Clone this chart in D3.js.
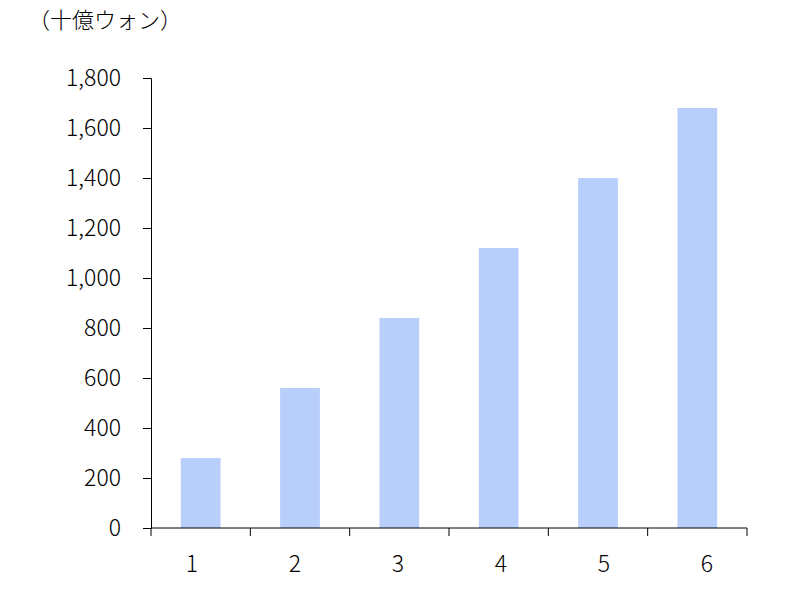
<!DOCTYPE html>
<html><head><meta charset="utf-8">
<script src="https://cdn.jsdelivr.net/npm/d3@7"></script>
<style>
body{margin:0;background:#fff;}
text{font-family:"Noto Sans CJK JP","Noto Sans",sans-serif;fill:#000;}
</style></head>
<body><svg id="c" width="800" height="600"></svg>
<script>
const categories = ["1","2","3","4","5","6"];
const values = [280, 560, 840, 1120, 1400, 1680];
const yTicks = [0,200,400,600,800,1000,1200,1400,1600,1800];
const unitLabel = "（十億ウォン）";

const svg = d3.select("#c");
const x = d3.scaleBand().domain(categories).range([151, 747]).paddingInner(0.6).paddingOuter(0.3);
const xLab = d3.scalePoint().domain(categories).range([192, 707]);
const y = d3.scaleLinear().domain([0,1800]).range([528, 78]);

svg.append("g").selectAll("rect").data(values).join("rect")
  .attr("x",(d,i)=>x(categories[i]))
  .attr("width",x.bandwidth())
  .attr("y",d=>y(d))
  .attr("height",d=>y(0)-y(d))
  .attr("fill","#b8cffc");

// y axis
const ya = svg.append("g").attr("transform","translate(151,0)")
  .call(d3.axisLeft(y).tickValues(yTicks).tickSize(8).tickPadding(22).tickFormat(d3.format(",")));
ya.selectAll("text").style("font-size","23px").style("font-weight","300").attr("fill","#000").attr("font-family",null);
ya.select(".domain").attr("stroke","#000");
ya.selectAll(".tick line").attr("stroke","#000");

// x axis line with boundary ticks
const edges = [151].concat(categories.map((c,i)=>151+(747-151)*(i+1)/categories.length));
const xa = svg.append("g");
xa.append("line").attr("x1",151).attr("x2",747).attr("y1",y(0)).attr("y2",y(0)).attr("stroke","#000");
xa.selectAll("line.t").data(edges).join("line").attr("class","t")
  .attr("x1",d=>d).attr("x2",d=>d).attr("y1",y(0)).attr("y2",y(0)+8).attr("stroke","#000");
xa.selectAll("text").data(categories).join("text")
  .attr("x",d=>xLab(d)).attr("y",572).attr("text-anchor","middle")
  .style("font-size","23px").style("font-weight","300").text(d=>d);

svg.append("text").attr("x",28).attr("y",28).style("font-size","22px").style("font-weight","300").text(unitLabel);
</script></body></html>
